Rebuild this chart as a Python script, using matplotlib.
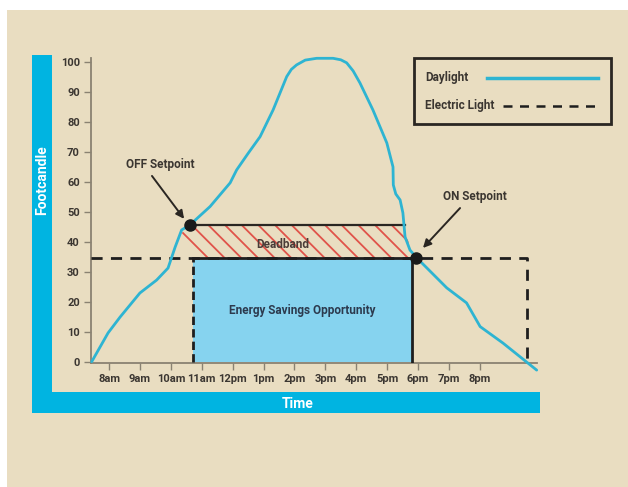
import matplotlib
matplotlib.use('Agg')
import matplotlib.pyplot as plt
from matplotlib.patches import Rectangle, Polygon
from matplotlib.lines import Line2D

plt.rcParams['font.family'] = ['Liberation Sans Narrow', 'Roboto', 'DejaVu Sans']
plt.rcParams['hatch.linewidth'] = 1.3

# daylight curve, hours (7 = 7am, 21 = 9pm) vs footcandle
day_h = [7.44, 7.97, 8.36, 9.0, 9.54, 9.91, 10.14, 10.35, 10.62, 11.27, 11.92,
         12.13, 12.5, 12.89, 13.31, 13.75, 13.9, 14.07, 14.35, 14.72, 15.25,
         15.5, 15.69, 15.9, 16.12, 16.54, 16.99, 17.19, 17.2, 17.28, 17.42,
         17.51, 17.58, 17.74, 17.96, 18.93, 19.57, 20.01, 20.75, 21.84]
day_fc = [0.1, 9.7, 15, 23, 27.3, 31.3, 38.3, 44, 45.7, 51.8, 59.7,
          64, 69.5, 75.1, 84, 95.1, 97.5, 99, 100.6, 101.2, 101.2,
          100.7, 99.7, 97, 93, 84, 73, 65, 59, 56, 54,
          49.7, 41.7, 37.3, 34.7, 24.7, 19.7, 11.8, 6.3, -2.7]

electric_fc = 34.5
electric_end = 21.53
off_point = (10.62, 45.5)
on_point = (17.93, 34.5)
deadband_top = 45.5
deadband_end = 17.58
saving_x = (10.72, 17.8)

# deadband outline
dead_x = [10.62, 17.58, 17.8, 10.72, 10.3]
dead_y = [45.5, 45.5, 34.5, 34.5, 42.5]

hours = [8, 9, 10, 11, 12, 13, 14, 15, 16, 17, 18, 19, 20]
hour_labels = ['8am', '9am', '10am', '11am', '12pm', '1pm', '2pm', '3pm',
               '4pm', '5pm', '6pm', '7pm', '8pm']
fc_ticks = [0, 10, 20, 30, 40, 50, 60, 70, 80, 90, 100]

beige = '#e9ddc1'
cyan = '#2eb4d2'
frame_blue = '#00b4e1'
dark = '#3b3631'

W, H = 628, 487
fig = plt.figure(figsize=(6.28, 4.87), dpi=100, facecolor='white')

def px_rect(x0, y0, x1, y1, **kw):
    # rectangle given in pixel coords from the top-left
    fig.add_artist(Rectangle((x0 / W, 1 - y1 / H), (x1 - x0) / W, (y1 - y0) / H,
                             transform=fig.transFigure, **kw))

def px_line(x0, x1, y, **kw):
    fig.add_artist(Line2D([x0 / W, x1 / W], [1 - y / H, 1 - y / H],
                          transform=fig.transFigure, **kw))

px_rect(7, 10, W, H, facecolor=beige, edgecolor='none', zorder=0)
px_rect(32, 55, 52, 413, facecolor=frame_blue, edgecolor='none', zorder=1)
px_rect(32, 392, 540, 413, facecolor=frame_blue, edgecolor='none', zorder=1)
fig.text(42 / W, 1 - 180 / H, 'Footcandle', rotation=90, color='white',
         fontsize=10, fontweight='bold', ha='center', va='center')
fig.text(298 / W, 1 - 404 / H, 'Time', color='white', fontsize=10,
         fontweight='bold', ha='center', va='center')

ax = fig.add_axes([91 / W, 1 - 363 / H, 446 / W, 305 / H])
ax.set_facecolor('none')
ax.set_xlim(7.417, 21.85)
ax.set_ylim(-0.33, 101.3)
for s in ['top', 'right']:
    ax.spines[s].set_visible(False)
for s in ['left', 'bottom']:
    ax.spines[s].set_color('#8a8272')
    ax.spines[s].set_linewidth(1.3)
ax.set_xticks(hours)
ax.set_xticklabels(hour_labels)
ax.set_yticks(fc_ticks)
ax.tick_params(colors='#8a8272', length=5, width=1, labelsize=8, pad=3)
for lab in ax.get_xticklabels() + ax.get_yticklabels():
    lab.set_color(dark)
    lab.set_fontweight('bold')

# energy savings opportunity
ax.fill_between(saving_x, 0, electric_fc, color='#86d3ef', lw=0, zorder=2)
ax.plot(saving_x, [electric_fc, electric_fc], color='#1e1e1e', lw=2, zorder=4)
ax.plot([saving_x[1], saving_x[1]], [0, electric_fc], color='#1e1e1e', lw=2, zorder=4)
ax.plot([saving_x[0], saving_x[0]], [0, electric_fc], color='#1e1e1e', lw=2,
        dashes=(3, 1.5), zorder=4)

# deadband
ax.add_patch(Polygon(list(zip(dead_x, dead_y)), closed=True, facecolor='none',
                     edgecolor='#e0534a', hatch='\\\\', lw=0, zorder=2))
ax.plot([off_point[0], deadband_end], [deadband_top, deadband_top],
        color='#2a2622', lw=1.6, zorder=4)

# electric light
ax.plot([7.417, electric_end, electric_end], [electric_fc, electric_fc, 0],
        color='#1e1e1e', lw=2, dashes=(4, 3), zorder=3)

# daylight
ax.plot(day_h, day_fc, color=cyan, lw=2, zorder=5, clip_on=False,
        solid_capstyle='round', solid_joinstyle='round')

ax.plot(*off_point, 'o', color='#1a1a1a', ms=8, zorder=6)
ax.plot(*on_point, 'o', color='#1a1a1a', ms=8, zorder=6)

arrow = dict(arrowstyle='-|>', color='#2a2622', lw=1.4, mutation_scale=12,
             shrinkA=0, shrinkB=0)
ax.text(9.65, 65.7, 'OFF Setpoint', ha='center', va='center', fontsize=8.5,
        fontweight='bold', color=dark, zorder=7)
ax.annotate('', xy=(10.43, 47.7), xytext=(9.39, 62), arrowprops=arrow, zorder=7)
ax.annotate('', xy=(18.16, 38), xytext=(19.36, 51.3), arrowprops=arrow, zorder=7)
ax.text(19.84, 55.3, 'ON Setpoint', ha='center', va='center', fontsize=8.5,
        fontweight='bold', color=dark, zorder=7)
ax.text(13.63, 39.3, 'Deadband', ha='center', va='center', fontsize=8.5,
        fontweight='bold', color='#4a3c38', zorder=7)
ax.text(14.25, 17, 'Energy Savings Opportunity', ha='center', va='center',
        fontsize=8.5, fontweight='bold', color='#2c3a4e', zorder=7)

# legend box
px_rect(414, 58, 611, 124, facecolor=beige, edgecolor='#2a2622', lw=2, zorder=3)
fig.text(425 / W, 1 - 77 / H, 'Daylight', fontsize=8.5, fontweight='bold',
         color=dark, va='center', zorder=4)
fig.text(425 / W, 1 - 105 / H, 'Electric Light', fontsize=8.5, fontweight='bold',
         color=dark, va='center', zorder=4)
px_line(487, 598, 78, color=cyan, lw=2.5, zorder=4)
px_line(503, 596, 106, color='#1e1e1e', lw=1.8, dashes=(3.6, 3.0), zorder=4)

fig.savefig('out.png', dpi=100, facecolor=fig.get_facecolor())
